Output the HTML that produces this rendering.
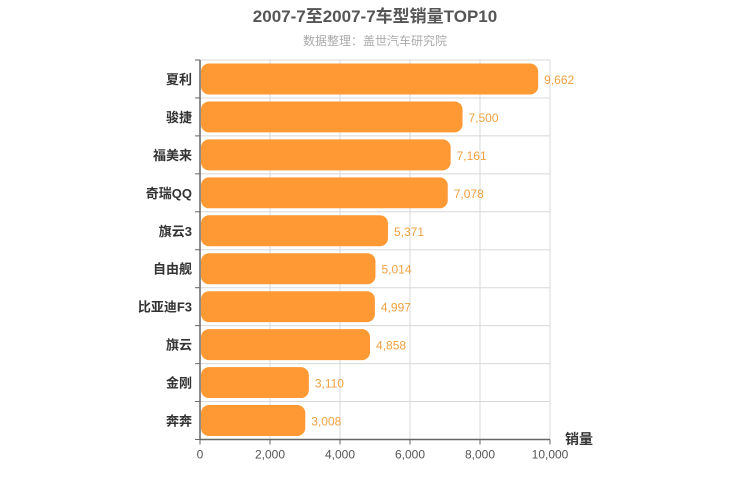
<!DOCTYPE html>
<html><head><meta charset="utf-8"><style>
body{margin:0;background:#fff}
svg{display:block;font-family:"Liberation Sans","Noto Sans CJK SC",sans-serif}
</style></head><body>
<svg width="750" height="500">
<text x="375" y="22" text-anchor="middle" font-size="17" font-weight="bold" fill="#555">2007-7至2007-7车型销量TOP10</text>
<text x="375" y="45" text-anchor="middle" font-size="12" fill="#aaa">数据整理：盖世汽车研究院</text>
<g id="grid"></g>
<g id="bars"></g>
<g id="axes"></g>
<text x="565" y="444" font-size="14" font-weight="bold" fill="#333">销量</text>
</svg>
<script>
const categories=["夏利","骏捷","福美来","奇瑞QQ","旗云3","自由舰","比亚迪F3","旗云","金刚","奔奔"];
const values=[9662,7500,7161,7078,5371,5014,4997,4858,3110,3008];
const xTicks=[0,2000,4000,6000,8000,10000];
const xTickLabels=["0","2,000","4,000","6,000","8,000","10,000"];
const X0=200,X1=550,Y0=60,Y1=439.5,XMAX=10000;
const xs=v=>X0+(v/XMAX)*(X1-X0);
const step=(Y1-Y0)/categories.length;
const ys=i=>Y0+i*step;
const NS="http://www.w3.org/2000/svg";
function mk(t,a,p){const e=document.createElementNS(NS,t);for(const k in a)e.setAttribute(k,a[k]);p.appendChild(e);return e;}
const grid=document.getElementById('grid'),bars=document.getElementById('bars'),axes=document.getElementById('axes');
xTicks.forEach((t,i)=>{
 const l=mk('line',{x1:xs(t),x2:xs(t),y1:Y0,y2:Y1,stroke:'#d8d8d8'},grid);
 
 
 const tk=mk('line',{x1:xs(t),x2:xs(t),y1:Y1,y2:Y1+5,stroke:'#666'},axes);
 
 
 const tx=mk('text',{x:xs(t),y:Y1+19,'text-anchor':'middle','font-size':12,fill:'#555'},axes);
 tx.textContent=xTickLabels[i];
 
 
});
for(let i=0;i<=categories.length;i++){
 const l=mk('line',{x1:X0,x2:X1,y1:ys(i),y2:ys(i),stroke:'#d8d8d8'},grid);
 
 
 const tk=mk('line',{x1:X0-5,x2:X0,y1:ys(i),y2:ys(i),stroke:'#666'},axes);
 
 
}
categories.forEach((c,i)=>{
 const y=ys(i)+3.5,h=step-7;
 const r=mk('rect',{x:X0+1,y:y,width:xs(values[i])-X0-1,height:h,rx:8,ry:8,fill:'#ff9933'},bars);
 
 
 const v=mk('text',{x:xs(values[i])+6,y:ys(i)+step/2+5,'font-size':12,fill:'#f0a040'},bars);
 v.textContent=values[i].toLocaleString('en-US');
 
 
 const t=mk('text',{x:X0-8,y:ys(i)+step/2+5,'text-anchor':'end','font-size':13,'font-weight':'bold',fill:'#333'},axes);
 t.textContent=c;
 
 
});
const ax=mk('line',{x1:X0,x2:X1,y1:Y1,y2:Y1,stroke:'#666','stroke-width':1.5},axes);


const ay=mk('line',{x1:X0,x2:X0,y1:Y0,y2:Y1,stroke:'#666','stroke-width':1.5},axes);


</script>
</body></html>
